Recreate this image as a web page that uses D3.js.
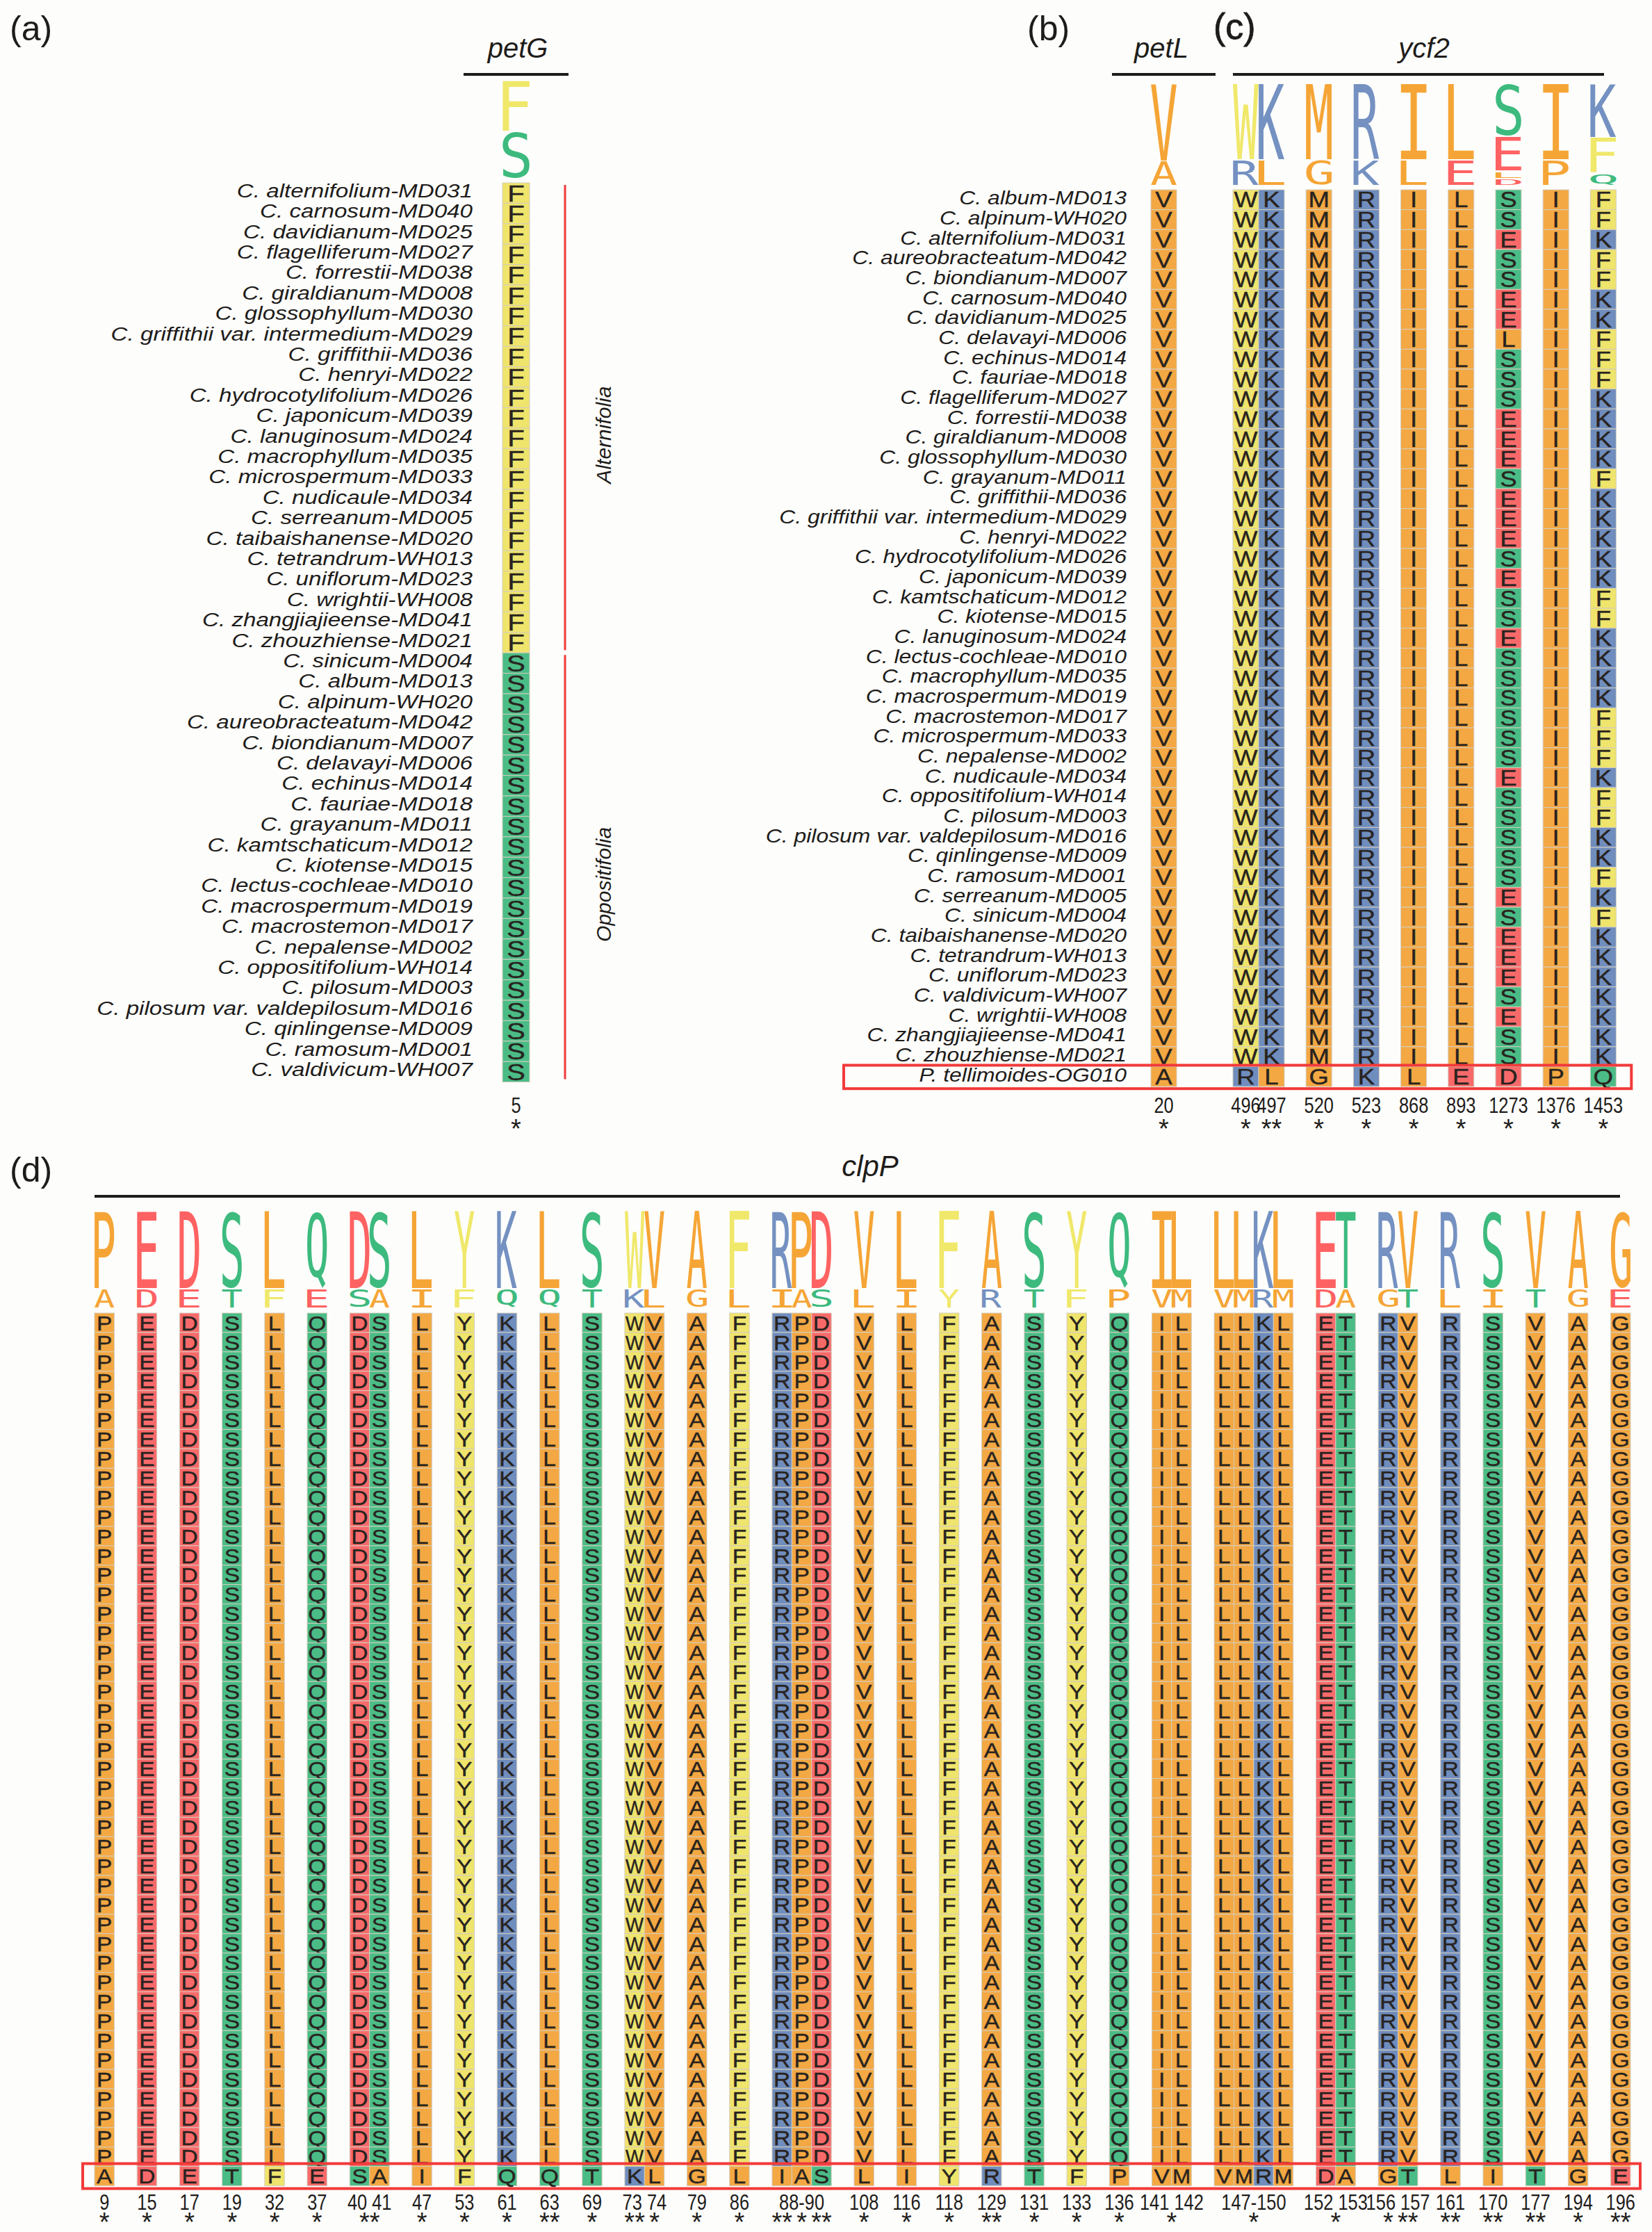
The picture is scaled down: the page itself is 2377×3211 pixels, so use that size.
<!DOCTYPE html>
<html>
<head>
<meta charset="utf-8">
<script src="https://d3js.org/d3.v7.min.js"></script>
<style>
body { margin: 0; background: #fdfdfb; }
svg { display: block; }
</style>
</head>
<body>
<div id="chart"></div>
<script>

// ---------------- data ----------------

// (a) petG position 5
var speciesA = [
  "C. alternifolium-MD031", "C. carnosum-MD040", "C. davidianum-MD025", "C. flagelliferum-MD027",
  "C. forrestii-MD038", "C. giraldianum-MD008", "C. glossophyllum-MD030", "C. griffithii var. intermedium-MD029",
  "C. griffithii-MD036", "C. henryi-MD022", "C. hydrocotylifolium-MD026", "C. japonicum-MD039",
  "C. lanuginosum-MD024", "C. macrophyllum-MD035", "C. microspermum-MD033", "C. nudicaule-MD034",
  "C. serreanum-MD005", "C. taibaishanense-MD020", "C. tetrandrum-WH013", "C. uniflorum-MD023",
  "C. wrightii-WH008", "C. zhangjiajieense-MD041", "C. zhouzhiense-MD021",
  "C. sinicum-MD004", "C. album-MD013", "C. alpinum-WH020", "C. aureobracteatum-MD042",
  "C. biondianum-MD007", "C. delavayi-MD006", "C. echinus-MD014", "C. fauriae-MD018",
  "C. grayanum-MD011", "C. kamtschaticum-MD012", "C. kiotense-MD015", "C. lectus-cochleae-MD010",
  "C. macrospermum-MD019", "C. macrostemon-MD017", "C. nepalense-MD002", "C. oppositifolium-WH014",
  "C. pilosum-MD003", "C. pilosum var. valdepilosum-MD016", "C. qinlingense-MD009", "C. ramosum-MD001",
  "C. valdivicum-WH007"
];
var sectionNames = ["Alternifolia", "Oppositifolia"];
var sectionSizes = [23, 21];
var sectionResidue = ["F", "S"];
var petGPos = "5", petGStars = "*";
var petGLogo = [["F", 0.52], ["S", 0.48]];

// (b) petL and (c) ycf2
var speciesB = [
  "C. album-MD013", "C. alpinum-WH020", "C. alternifolium-MD031", "C. aureobracteatum-MD042",
  "C. biondianum-MD007", "C. carnosum-MD040", "C. davidianum-MD025", "C. delavayi-MD006",
  "C. echinus-MD014", "C. fauriae-MD018", "C. flagelliferum-MD027", "C. forrestii-MD038",
  "C. giraldianum-MD008", "C. glossophyllum-MD030", "C. grayanum-MD011", "C. griffithii-MD036",
  "C. griffithii var. intermedium-MD029", "C. henryi-MD022", "C. hydrocotylifolium-MD026", "C. japonicum-MD039",
  "C. kamtschaticum-MD012", "C. kiotense-MD015", "C. lanuginosum-MD024", "C. lectus-cochleae-MD010",
  "C. macrophyllum-MD035", "C. macrospermum-MD019", "C. macrostemon-MD017", "C. microspermum-MD033",
  "C. nepalense-MD002", "C. nudicaule-MD034", "C. oppositifolium-WH014", "C. pilosum-MD003",
  "C. pilosum var. valdepilosum-MD016", "C. qinlingense-MD009", "C. ramosum-MD001", "C. serreanum-MD005",
  "C. sinicum-MD004", "C. taibaishanense-MD020", "C. tetrandrum-WH013", "C. uniflorum-MD023",
  "C. valdivicum-WH007", "C. wrightii-WH008", "C. zhangjiajieense-MD041", "C. zhouzhiense-MD021",
  "P. tellimoides-OG010"
];
var petLPos = ["20"], petLChryso = ["V"], petLTell = ["A"], petLStars = ["*"];
var petLLogo = [[["V", 0.76], ["A", 0.24]]];

var ycf2Pos = ["496", "497", "520", "523", "868", "893", "1273", "1376", "1453"];
var ycf2Groups = [2, 1, 1, 1, 1, 1, 1, 1];
// one letter = shared by all 44 Chrysosplenium rows
var ycf2Chryso = ["W", "K", "M", "R", "I", "L",
  "SSESSEELSS" + "SEEESEEESE" + "SSESSSSSSE" + "SSSSSESEEE" + "SESS",
  "I",
  "FFKFFKKFFF" + "KKKKFKKKKK" + "FFKKKKFFFK" + "FFKKFKFKKK" + "KKKK"];
var ycf2Tell = ["R", "L", "G", "K", "L", "E", "D", "P", "Q"];
var ycf2Stars = ["*", "**", "*", "*", "*", "*", "*", "*", "*"];
var ycf2Logo = [
  [["W", 0.75], ["R", 0.25]],
  [["K", 0.75], ["L", 0.25]],
  [["M", 0.75], ["G", 0.25]],
  [["R", 0.75], ["K", 0.25]],
  [["I", 0.75], ["L", 0.25]],
  [["L", 0.75], ["E", 0.25]],
  [["S", 0.52], ["E", 0.34], ["L", 0.07], ["D", 0.07]],
  [["I", 0.75], ["P", 0.25]],
  [["K", 0.53], ["F", 0.35], ["Q", 0.12]]
];

// (d) clpP
var clpPRows = 44;
var clpPLabels = ["9", "15", "17", "19", "32", "37", "40 41", "47", "53", "61", "63", "69", "73 74", "79", "86",
  "88-90", "108", "116", "118", "129", "131", "133", "136", "141 142", "147-150", "152 153", "156 157",
  "161", "170", "177", "194", "196"];
var clpPConsensus = ["P", "E", "D", "S", "L", "Q", "DS", "L", "Y", "K", "L", "S", "WV", "A", "F",
  "RPD", "V", "L", "F", "A", "S", "Y", "Q", "IL", "LLKL", "ET", "RV",
  "R", "S", "V", "A", "G"];
var clpPTellimoides = ["A", "D", "E", "T", "F", "E", "SA", "I", "F", "Q", "Q", "T", "KL", "G", "L",
  "IAS", "L", "I", "Y", "R", "T", "F", "P", "VM", "VMRM", "DA", "GT",
  "L", "I", "T", "G", "E"];
var clpPStars = ["*", "*", "*", "*", "*", "*", "**", "*", "*", "*", "**", "*", "** *", "*", "*",
  "** * **", "*", "*", "*", "**", "*", "*", "*", "*", "*", "*", "* **",
  "**", "**", "**", "*", "**"];
var clpPLogoShare = [0.8, 0.2];

// residue colour classes
var residueClass = {A: "o", V: "o", L: "o", I: "o", M: "o", P: "o", G: "o",
  F: "y", W: "y", Y: "y", S: "g", T: "g", Q: "g", N: "g", K: "b", R: "b", H: "b", D: "r", E: "r"};

// ---------------- helpers ----------------

var cellColor = d3.scaleOrdinal().domain(["o", "y", "g", "b", "r"])
  .range(["#f3a843", "#efe46c", "#4bbc86", "#6f8dbd", "#f86a6a"]);
var logoColor = d3.scaleOrdinal().domain(["o", "y", "g", "b", "r"])
  .range(["#f5a536", "#f0e86a", "#3dba7e", "#7491c1", "#fe6262"]);

var mctx = document.createElement("canvas").getContext("2d");
function hasFont(name) {
  mctx.font = '40px "' + name + '", monospace';
  var a = mctx.measureText("abcdefghijMWxyz").width;
  mctx.font = '40px monospace';
  return a !== mctx.measureText("abcdefghijMWxyz").width;
}
var narrowOK = hasFont("Liberation Sans Narrow");
var NARROW = narrowOK ? '"Liberation Sans Narrow", sans-serif' : '"Liberation Sans", sans-serif';
var squeeze = narrowOK ? 1 : 0.82;
var SANS = '"Liberation Sans", Arial, sans-serif';
var LOGO = '"DejaVu Sans Mono", monospace';
var INK = "#1e1c1a";

function glyphBox(ch) {
  mctx.font = '200px ' + LOGO;
  var m = mctx.measureText(ch);
  return {l: m.actualBoundingBoxLeft, r: m.actualBoundingBoxRight,
          a: m.actualBoundingBoxAscent, d: m.actualBoundingBoxDescent};
}

function label(g, x, y, str, o) {
  var sx = o.sx != null ? o.sx : (o.family ? 1 : squeeze);
  return g.append("text")
    .attr("transform", "translate(" + x + "," + y + ")" + (o.rot ? " rotate(" + o.rot + ")" : "") + " scale(" + sx + ",1)")
    .attr("font-family", o.family || NARROW)
    .attr("font-size", o.size)
    .attr("font-style", o.italic ? "italic" : "normal")
    .attr("text-anchor", o.anchor || "start")
    .attr("fill", o.fill || INK)
    .style("white-space", "pre")
    .text(str);
}

// residue cell: coloured box with the letter, widened to fill the box
function cell(g, x, y, w, h, ch, fs, sx) {
  g.append("rect").attr("x", x).attr("y", y).attr("width", w).attr("height", h)
    .attr("fill", cellColor(residueClass[ch]))
    .attr("stroke", "#d4cdbf").attr("stroke-width", 1);
  mctx.font = fs + "px " + SANS;
  var s = Math.min(sx, 0.92 * w / mctx.measureText(ch).width);
  g.append("text")
    .attr("transform", "translate(" + (x + w / 2) + "," + (y + h / 2 + fs * 0.36) + ") scale(" + s + ",1)")
    .attr("text-anchor", "middle").attr("font-family", SANS).attr("font-size", fs)
    .attr("fill", "#28231f").attr("stroke", "#28231f").attr("stroke-width", 0.4)
    .text(ch);
}

function logo(g, x, w, top, bottom, stack) {
  var total = d3.sum(stack, function(d) { return d[1]; });
  var y = d3.scaleLinear().domain([0, total]).range([top, bottom]);
  var acc = 0;
  stack.forEach(function(d) {
    var y0 = y(acc), y1 = y(acc + d[1]);
    acc += d[1];
    var b = glyphBox(d[0]);
    var gh = Math.max(1, y1 - y0 - 2);
    g.append("text").attr("font-family", LOGO).attr("font-size", 200)
      .attr("fill", logoColor(residueClass[d[0]]))
      .attr("transform", "translate(" + x + "," + (y0 + 1) + ") scale(" + (w / (b.l + b.r)) + "," + (gh / (b.a + b.d)) + ") translate(" + b.l + "," + b.a + ")")
      .text(d[0]);
  });
}

// unit offsets of columns, groups separated by a gap (in column units)
function columnUnits(groupSizes, gap) {
  var starts = [], u = 0;
  groupSizes.forEach(function(n, gi) {
    var s = [];
    for (var k = 0; k < n; k++) s.push(u + k);
    starts.push(s);
    u += n + (gi < groupSizes.length - 1 ? gap : 0);
  });
  return {starts: starts, total: u};
}

function rowCenter(scale, i) { return scale(i) + scale.bandwidth() / 2; }

var NUM = {size: 31, anchor: "middle"};
var STAR = {size: 38, anchor: "middle", family: SANS};

// ---------------- svg ----------------

var W = 2377, H = 3211;
var svg = d3.select("#chart").append("svg").attr("width", W).attr("height", H);
svg.append("rect").attr("width", W).attr("height", H).attr("fill", "#fdfdfb");

// ===== panel (a) =====
var gA = svg.append("g");
var yA = d3.scaleBand().domain(d3.range(speciesA.length)).range([263, 263 + speciesA.length * 29.4]);
var xA = 723, wA = 39;

label(gA, 14, 58, "(a)", {size: 50, family: SANS});
label(gA, 745, 83, "petG", {size: 40, italic: true, anchor: "middle", family: SANS});
gA.append("line").attr("x1", 667).attr("x2", 818).attr("y1", 107).attr("y2", 107)
  .attr("stroke", INK).attr("stroke-width", 4);
logo(gA, xA, wA, 115, 257, petGLogo);

var secStart = 0;
sectionNames.forEach(function(name, si) {
  var s = secStart, e = secStart + sectionSizes[si] - 1;
  for (var i = s; i <= e; i++) {
    label(gA, 680, rowCenter(yA, i) + 6, speciesA[i], {size: 28, italic: true, anchor: "end", family: SANS, sx: 1.185});
    cell(gA, xA, yA(i), wA, yA.bandwidth(), sectionResidue[si], 33, 1.22);
  }
  var y1 = yA(s) + 3, y2 = yA(e) + yA.bandwidth() - 4;
  gA.append("line").attr("x1", 813).attr("x2", 813).attr("y1", y1).attr("y2", y2)
    .attr("stroke", "#f23a3a").attr("stroke-width", 3);
  label(gA, 879, (y1 + y2) / 2 + 25, name, {size: 30, italic: true, anchor: "middle", rot: -90, family: SANS});
  secStart = e + 1;
});
label(gA, xA + wA / 2, 1601, petGPos, NUM);
label(gA, xA + wA / 2, 1637, petGStars, STAR);

// ===== panels (b) and (c) =====
var gB = svg.append("g");
var yB = d3.scaleBand().domain(d3.range(speciesB.length)).range([273, 273 + speciesB.length * 28.67]);
var wB = 37;
var nChryso = speciesB.length - 1;

label(gB, 1478, 58, "(b)", {size: 50, family: SANS});
label(gB, 1746, 56, "(c)", {size: 52, family: SANS}).attr("stroke", INK).attr("stroke-width", 0.8);

speciesB.forEach(function(s, i) {
  label(gB, 1621, rowCenter(yB, i) + 7, s, {size: 27, italic: true, anchor: "end", family: SANS, sx: 1.18});
});

function drawAlignedColumn(g, x, w, chryso, tell, pos, stars, stack) {
  for (var i = 0; i < speciesB.length; i++) {
    var ch = i < nChryso ? (chryso.length === 1 ? chryso : chryso[i]) : tell;
    cell(g, x, yB(i), w, yB.bandwidth(), ch, 31, 1.18);
  }
  logo(g, x, w, 120, 267, stack);
  label(g, x + w / 2, 1601, pos, NUM);
  label(g, x + w / 2, 1637, stars, STAR);
}

// petL
var xPetL = 1656;
drawAlignedColumn(gB, xPetL, wB, petLChryso[0], petLTell[0], petLPos[0], petLStars[0], petLLogo[0]);
label(gB, 1671, 83, "petL", {size: 40, italic: true, anchor: "middle", family: SANS});
gB.append("line").attr("x1", 1600).attr("x2", 1749).attr("y1", 107).attr("y2", 107)
  .attr("stroke", INK).attr("stroke-width", 4);

// ycf2
var unitsB = columnUnits(ycf2Groups, 0.843);
var xYcf = d3.scaleLinear().domain([0, unitsB.total]).range([1774, 1774 + unitsB.total * wB]);
var colUnitsB = [].concat.apply([], unitsB.starts);
colUnitsB.forEach(function(u, c) {
  drawAlignedColumn(gB, xYcf(u), wB, ycf2Chryso[c], ycf2Tell[c], ycf2Pos[c], ycf2Stars[c], ycf2Logo[c]);
});
label(gB, 2049, 83, "ycf2", {size: 40, italic: true, anchor: "middle", family: SANS});
gB.append("line").attr("x1", 1774).attr("x2", 2308).attr("y1", 107).attr("y2", 107)
  .attr("stroke", INK).attr("stroke-width", 4);

var lastB = speciesB.length - 1;
gB.append("rect").attr("x", 1214).attr("y", yB(lastB) - 2)
  .attr("width", xYcf(unitsB.total) + 22 - 1214).attr("height", yB.bandwidth() + 5)
  .attr("fill", "none").attr("stroke", "#f23a3a").attr("stroke-width", 4);

// ===== panel (d) =====
var gD = svg.append("g");
var nD = clpPRows + 1;
var yD = d3.scaleBand().domain(d3.range(nD)).range([1889, 1889 + nD * 27.9]);
var groupSizesD = clpPConsensus.map(function(s) { return s.length; });
var unitsD = columnUnits(groupSizesD, 1.155);
var xD = d3.scaleLinear().domain([0, unitsD.total]).range([136, 2346]);
var wDpx = xD(1) - xD(0);

label(gD, 14, 1700, "(d)", {size: 50, family: SANS});
label(gD, 1252, 1692, "clpP", {size: 42, italic: true, anchor: "middle", family: SANS});
gD.append("line").attr("x1", 136).attr("x2", 2331).attr("y1", 1721).attr("y2", 1721)
  .attr("stroke", INK).attr("stroke-width", 4);

clpPConsensus.forEach(function(cons, gi) {
  var starts = unitsD.starts[gi];
  var alt = clpPTellimoides[gi];
  starts.forEach(function(u, k) {
    var x = xD(u);
    for (var i = 0; i < nD; i++) {
      var ch = i < clpPRows ? cons[k] : alt[k];
      cell(gD, x, yD(i), wDpx, yD.bandwidth(), ch, 30, 1.12);
    }
    logo(gD, x, wDpx, 1742, 1882, [[cons[k], clpPLogoShare[0]], [alt[k], clpPLogoShare[1]]]);
  });
  var gx0 = xD(starts[0]), gx1 = xD(starts[starts.length - 1]) + wDpx;
  label(gD, (gx0 + gx1) / 2, 3179, clpPLabels[gi], NUM);
  var st = clpPStars[gi].split(" ");
  if (st.length === starts.length) {
    st.forEach(function(t, k) { label(gD, xD(starts[k]) + wDpx / 2, 3210, t, STAR); });
  } else {
    label(gD, (gx0 + gx1) / 2, 3210, clpPStars[gi], STAR);
  }
});

gD.append("rect").attr("x", 119).attr("y", yD(nD - 1) - 4)
  .attr("width", 2360 - 119).attr("height", yD.bandwidth() + 8)
  .attr("fill", "none").attr("stroke", "#f23a3a").attr("stroke-width", 4);

</script>
</body>
</html>
